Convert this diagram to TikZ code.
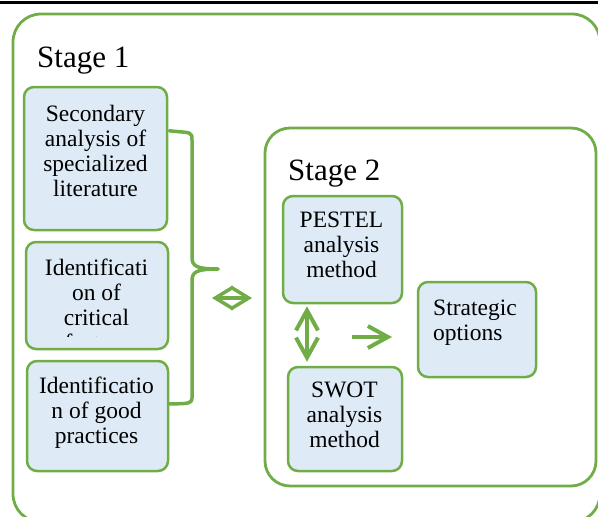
\documentclass[tikz,border=0pt]{standalone}
\usepackage{fontspec}
\setmainfont{Liberation Serif}
\usetikzlibrary{arrows.meta,calc}
\definecolor{grn}{HTML}{70AD47}
\definecolor{lblue}{HTML}{DEEBF7}
\begin{document}
\begin{tikzpicture}[x=1pt,y=-1pt,
  stagebox/.style={draw=grn,line width=2.8pt,rounded corners=#1,inner sep=0pt},
  procbox/.style={draw=grn,fill=lblue,line width=2.5pt,rounded corners=10pt,inner sep=0pt},
  boxtext/.style={inner sep=0pt,align=center,font=\fontsize{23.5}{25}\selectfont},
  stagetext/.style={inner sep=0pt,anchor=base west,font=\fontsize{31}{36}\selectfont},
  brace/.style={draw=grn,line width=3.5pt,line cap=round,line join=round},
  garrow/.style={draw=grn,line width=4pt,arrows={-Straight Barb[length=20pt,width=22pt]}},
  gdarrow/.style={draw=grn,line width=4pt,arrows={Straight Barb[length=20pt,width=22pt]-Straight Barb[length=20pt,width=22pt]}},
  diamarrow/.style={draw=grn,line width=3.5pt,arrows={Straight Barb[length=18pt,width=22pt]-Straight Barb[length=18pt,width=22pt]}}
]
\useasboundingbox (0,0) rectangle (598,517);
% top rule
\coordinate (rl) at (0,2.5);
\coordinate (rr) at (598,2.5);
\draw[line width=3pt] (rl) -- (rr);

% outer stage boxes
\node[stagebox=28pt,minimum width=587pt,minimum height=508pt] (st1) at (306.5,268) {};
\node[stagebox=25pt,minimum width=331pt,minimum height=358pt] (st2) at (430.5,307) {};
\node[stagetext] (st1lab) at (37,67) {Stage 1};
\node[stagetext] (st2lab) at (288,180) {Stage 2};

% stage 1 boxes
\node[procbox,minimum width=143pt,minimum height=143pt] (A) at (95.5,158.5) {};
\node[boxtext] (At) at (95.5,151) {Secondary\\analysis of\\specialized\\literature};

\node[procbox,minimum width=142pt,minimum height=107pt] (B) at (97,295.5) {};
\begin{scope}
  \clip (26,242) rectangle (168,336);
  \node[boxtext] (Bt) at (96.5,305) {Identificati\\on of\\critical\\factors};
\end{scope}

\node[procbox,minimum width=141pt,minimum height=110pt] (C) at (97.5,416) {};
\node[boxtext] (Ct) at (96.5,412.5) {Identificatio\\n of good\\practices};

% stage 2 boxes
\node[procbox,minimum width=119pt,minimum height=107pt] (P) at (342.5,249.5) {};
\node[boxtext] (Pt) at (341.5,245) {PESTEL\\analysis\\method};

\node[procbox,minimum width=114pt,minimum height=104pt] (S) at (345,419) {};
\node[boxtext] (St) at (344.5,415) {SWOT\\analysis\\method};

\node[procbox,minimum width=118pt,minimum height=95pt] (O) at (477,329.5) {};
\node[boxtext,align=left,anchor=west] (Ot) at (433,323) {Strategic\\options};

% brace
\coordinate (btop) at ($(A.north east)+(1,45)$);
\coordinate (bbot) at ($(C.north east)+(0,44)$);
\coordinate (btip) at (218,269);
\draw[brace] (btop) .. controls (180,132) and (186,132) .. (189,133)
  .. controls (192,134) and (192,136) .. (192,140) -- (192,257)
  .. controls (192,266) and (196,269) .. (btip);
\draw[brace] (btip) .. controls (196,269) and (192,272) .. (192,281)
  -- (192,398) .. controls (192,403) and (190,404) .. (bbot);

% diamond double arrow
\coordinate (d1) at (212,298);
\coordinate (d2) at (252,298);
\draw[diamarrow] (d1) -- (d2);

% vertical double arrow
\coordinate (vx) at (307,0);
\draw[gdarrow,shorten <=2pt,shorten >=4pt] (P.south -| vx) -- (S.north -| vx);

% right arrow
\coordinate (r1) at (352,337);
\coordinate (r2) at (392,337);
\draw[garrow] (r1) -- (r2);
\end{tikzpicture}
\end{document}
